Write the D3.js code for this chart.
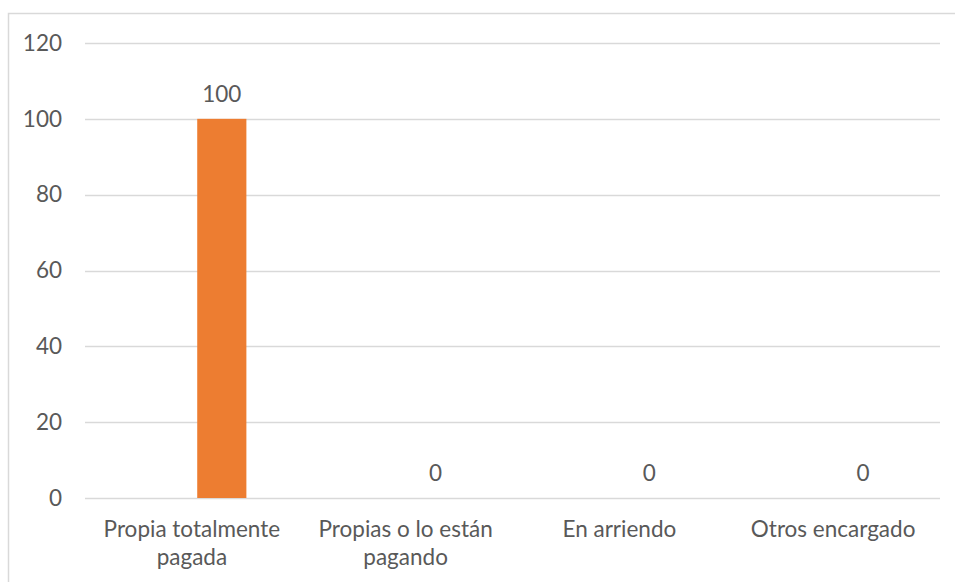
<!DOCTYPE html>
<html>
<head>
<meta charset="utf-8">
<script src="https://cdn.jsdelivr.net/npm/d3@7"></script>
<style>
  html, body { margin: 0; padding: 0; background: #fff; }
  svg { display: block; }
  text { font-family: Lato, "Open Sans", sans-serif; fill: #595959; }
</style>
</head>
<body>
<svg id="chart" width="955" height="582"></svg>
<script>
const categories = ["Propia totalmente pagada", "Propias o lo están pagando", "En arriendo", "Otros encargado"];
const values = [100, 0, 0, 0];
const yTicks = [0, 20, 40, 60, 80, 100, 120];

const W = 955, H = 582;
const margin = { left: 85, right: 15, top: 43, bottom: 84 };
const FS = 22.5;
const svg = d3.select("#chart");

// outer frame (cropped on right and bottom)
svg.append("rect")
  .attr("x", 8.5).attr("y", 13.5)
  .attr("width", 960).attr("height", 600)
  .attr("fill", "none").attr("stroke", "#d9d9d9").attr("stroke-width", 1.5);

const x = d3.scaleBand().domain(categories).range([margin.left, W - margin.right]).padding(0);
const y = d3.scaleLinear().domain([0, 120]).range([H - margin.bottom, margin.top]);

// gridlines
svg.append("g").selectAll("line").data(yTicks).join("line")
  .attr("x1", margin.left).attr("x2", W - margin.right)
  .attr("y1", d => Math.round(y(d)) + 0.5).attr("y2", d => Math.round(y(d)) + 0.5)
  .attr("stroke", "#d9d9d9").attr("stroke-width", 1.5);

// y axis labels
const yAxis = d3.axisLeft(y).tickValues(yTicks).tickSize(0).tickPadding(23);
const gy = svg.append("g").attr("transform", `translate(${margin.left},0)`).call(yAxis);
gy.select(".domain").remove();
gy.selectAll("text").attr("font-size", FS).attr("fill", "#595959")
  .style("font-family", "Lato, 'Open Sans', sans-serif");

// bars (offset within band, as in source)
const barW = x.bandwidth() * 0.23;
const barCx = c => x(c) + x.bandwidth() * 0.64;
svg.append("g").selectAll("rect").data(categories).join("rect")
  .attr("x", (c) => barCx(c) - barW / 2)
  .attr("width", barW)
  .attr("y", (c, i) => y(values[i]))
  .attr("height", (c, i) => y(0) - y(values[i]))
  .attr("fill", "#ED7D31");

// data labels
svg.append("g").selectAll("text").data(categories).join("text")
  .attr("x", c => barCx(c))
  .attr("y", (c, i) => y(values[i]) - 17)
  .attr("text-anchor", "middle")
  .attr("font-size", FS)
  .text((c, i) => values[i]);

// x axis labels with wrapping
const maxW = x.bandwidth() * 0.9;
const gx = svg.append("g");
categories.forEach(c => {
  const cx = x(c) + x.bandwidth() / 2;
  const t = gx.append("text")
    .attr("x", cx)
    .attr("y", H - margin.bottom + 39)
    .attr("text-anchor", "middle")
    .attr("font-size", FS);
  const words = c.split(" ");
  let line = [];
  let tspan = t.append("tspan").attr("x", cx).attr("dy", 0);
  words.forEach(w => {
    line.push(w);
    tspan.text(line.join(" "));
    if (tspan.node().getComputedTextLength() > maxW && line.length > 1) {
      line.pop();
      tspan.text(line.join(" "));
      line = [w];
      tspan = t.append("tspan").attr("x", cx).attr("dy", 28).text(w);
    }
  });
});
</script>
</body>
</html>
